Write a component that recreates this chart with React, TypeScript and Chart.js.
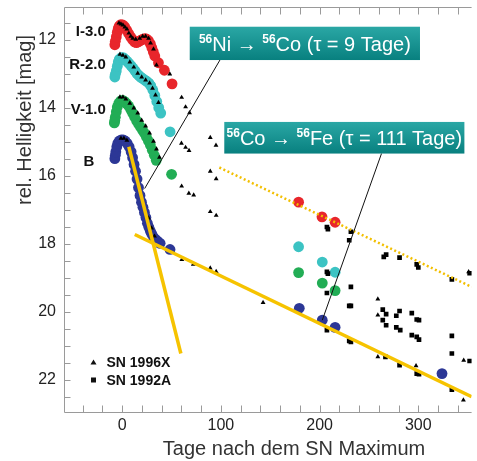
import React, { useEffect, useRef } from 'react';
import { Chart, registerables } from 'chart.js';

Chart.register(...registerables);

type P = [number, number];

// ---- data (days after maximum, relative magnitude) ----
const bandI: P[] = [
  [-7.5, 12.15], [-7, 12.05], [-6, 11.92], [-5, 11.78], [-4, 11.67], [-3, 11.6], [-1.5, 11.56], [0.5, 11.57],
  [2.5, 11.62], [4.5, 11.72], [6.5, 11.82], [8.5, 11.92], [10.5, 12.0], [12.5, 12.07], [14.5, 12.09],
  [16.5, 12.06], [18.5, 12.02], [20.5, 11.99], [22.5, 11.97], [24.5, 11.98], [26.5, 12.03], [28.5, 12.12],
  [30, 12.24], [31.5, 12.36], [33, 12.48], [36.7, 12.68], [42.7, 12.9], [50.5, 13.3],
  [178.7, 16.78], [202.4, 17.21], [215.7, 17.37],
];
const bandR: P[] = [
  [-7.5, 13.1], [-7, 13.02], [-6, 12.92], [-5, 12.78], [-4, 12.66], [-3, 12.58], [-1, 12.53], [1, 12.53],
  [3, 12.58], [5, 12.64], [7, 12.7], [9, 12.77], [11, 12.84], [13, 12.92], [15, 13.0], [17, 13.06],
  [19, 13.11], [21, 13.15], [23, 13.19], [25, 13.23], [27, 13.28], [29, 13.36], [31, 13.48], [33, 13.64],
  [35, 13.82], [37, 14.0], [39, 14.16], [48.5, 14.71],
  [178.7, 18.09], [202.7, 18.54], [215.7, 18.84],
];
const bandV: P[] = [
  [-8, 14.45], [-7.5, 14.38], [-7, 14.28], [-6, 14.12], [-5, 13.98], [-3.5, 13.87], [-1.5, 13.8], [0.5, 13.79],
  [2.5, 13.82], [4.5, 13.88], [6.5, 13.95], [8.5, 14.05], [10.5, 14.16], [12.5, 14.27], [14.5, 14.38],
  [16.5, 14.48], [18.5, 14.57], [20.5, 14.66], [22.5, 14.75], [24.5, 14.86], [26.5, 14.98], [28.5, 15.1],
  [30.5, 15.25], [32.5, 15.4], [34.5, 15.55], [50, 15.96],
  [178.7, 18.85], [202.7, 19.16], [215.7, 19.38],
];
const bandB: P[] = [
  [-7.5, 15.5], [-7, 15.4], [-6.5, 15.3], [-5.5, 15.15], [-4.5, 15.05], [-3, 14.98], [-1, 14.95], [1, 14.95],
  [3, 14.98], [5, 15.05], [7, 15.15], [9, 15.3], [10.5, 15.47], [12, 15.67], [13.5, 15.87], [15, 16.1],
  [16.5, 16.35], [18, 16.58], [19.5, 16.78], [21, 16.93], [22.5, 17.08], [24, 17.23], [25.5, 17.4],
  [27, 17.52], [28.5, 17.63], [30, 17.72], [32, 17.82], [34, 17.88], [36, 17.93], [38.4, 17.99], [48.4, 18.17],
  [179.4, 19.9], [202.7, 20.25], [215.7, 20.46], [324, 21.82],
];
const sn1996X: P[] = [
  [-3.3, 11.51], [-1.3, 11.54], [0.7, 11.57], [2.7, 11.63], [4.7, 11.69], [6.7, 11.81], [8.7, 11.9],
  [10.7, 11.96], [13.7, 11.99], [17.7, 11.96], [20.7, 11.9], [23.7, 11.9], [26.7, 11.96], [28.7, 12.1],
  [31.7, 12.28], [34.7, 12.75], [48.2, 13.01], [60.2, 13.7], [64.2, 13.98], [68.2, 14.15], [89.2, 14.88],
  [95, 15.11],
  [-2.3, 12.43], [0.7, 12.46], [3.7, 12.51], [7.7, 12.66], [11.7, 12.81], [15.7, 12.99], [19.7, 13.1],
  [23.7, 13.19], [27.7, 13.28], [30.7, 13.43], [33.7, 13.63], [36.7, 13.85], [60, 15.05], [64.2, 15.17],
  [67.7, 15.26], [89.2, 15.87], [95.2, 16.09],
  [-2.3, 13.69], [0.7, 13.69], [3.7, 13.75], [7.7, 13.87], [11.7, 14.01], [15.7, 14.16], [19.7, 14.37],
  [23.7, 14.54], [27.7, 14.75], [31.7, 14.99], [34.7, 15.22], [37.7, 15.46], [60.2, 16.31], [67.5, 16.52],
  [72.4, 16.57], [89.2, 17.06], [95.2, 17.17],
  [-1.3, 14.9], [1.7, 14.9], [4.7, 14.96], [26.7, 17.25], [29.7, 17.54], [32.7, 17.78], [60.4, 18.47],
  [72, 18.61], [89.2, 18.72], [95.2, 18.82], [142.7, 19.73], [259, 21.33], [297.7, 21.59], [346, 21.43],
  [345.7, 22.6], [259, 19.63], [259, 20.1], [351, 18.83],
];
const sn1992A: P[] = [
  [207.4, 17.51], [208.4, 17.57], [230, 17.9], [231.7, 17.65], [265, 18.39], [267.4, 18.32], [281, 18.41],
  [298.4, 18.61], [300, 18.7], [334, 19.05], [352, 18.87], [207.4, 18.83], [208.4, 18.88], [207.4, 19.45],
  [231.7, 19.27], [230, 19.83], [231.7, 19.83], [207.4, 20.54], [230, 20.86], [231.7, 20.89], [264, 19.94],
  [267.4, 20.07], [264, 20.25], [267.4, 20.4], [277.7, 20.12], [281, 19.98], [277.7, 20.46], [281.7, 20.54],
  [293.4, 20.04], [298.4, 20.23], [300.7, 20.25], [293.4, 20.69], [298.4, 20.74], [300.7, 20.82],
  [266.7, 21.33], [281, 21.57], [298.4, 21.82], [300.7, 21.84], [334, 20.71], [334, 21.23], [334, 22.29],
  [352, 21.45],
];
const fitNiCo: P[] = [[6.7, 15.15], [59.4, 21.23]];
const fitCoFe: P[] = [[12.7, 17.73], [354, 22.5]];
const fitCoFeI: P[] = [[98.4, 15.76], [354, 19.27]];
const pointerNi: P[] = [[100, 12.55], [22.7, 16.38]];
const pointerCo: P[] = [[262.7, 15.35], [202.7, 20.25]];

const xTickLabels = [0, 100, 200, 300];
const yTickLabels = [12, 14, 16, 18, 20, 22];
const xMinorTicks = [-40, -20, 0, 20, 40, 60, 80, 100, 120, 140, 160, 180, 200, 220, 240, 260, 280, 300, 320, 340];
const yMinorTicks = [11.5, 12, 12.5, 13, 13.5, 14, 14.5, 15, 15.5, 16, 16.5, 17, 17.5, 18, 18.5, 19, 19.5, 20, 20.5, 21, 21.5, 22, 22.5];

const bandNames = ['I-3.0', 'R-2.0', 'V-1.0', 'B'];
const legendNames = ['SN 1996X', 'SN 1992A'];
const xTitle = 'Tage nach dem SN Maximum';
const yTitle = 'rel. Helligkeit [mag]';
type Seg = { t: string; sup?: boolean };
const boxNiText: Seg[] = [{ t: '56', sup: true }, { t: 'Ni → ' }, { t: '56', sup: true }, { t: 'Co (τ = 9 Tage)' }];
const boxCoText: Seg[] = [{ t: '56', sup: true }, { t: 'Co → ' }, { t: '56', sup: true }, { t: 'Fe (τ = 111 Tage)' }];

const FONT = "'Liberation Sans', Arial, Helvetica, sans-serif";
const toXY = (arr: P[]) => arr.map(([x, y]) => ({ x, y }));

function drawRich(ctx: CanvasRenderingContext2D, segs: Seg[], cx: number, cy: number, size: number, supSize: number) {
  let w = 0;
  const widths: number[] = [];
  segs.forEach((s) => {
    ctx.font = s.sup ? `bold ${supSize}px ${FONT}` : `${size}px ${FONT}`;
    const mw = ctx.measureText(s.t).width;
    widths.push(mw);
    w += mw;
  });
  let x = cx - w / 2;
  const base = cy + size * 0.36;
  ctx.textAlign = 'left';
  ctx.textBaseline = 'alphabetic';
  segs.forEach((s, i) => {
    ctx.font = s.sup ? `bold ${supSize}px ${FONT}` : `${size}px ${FONT}`;
    ctx.fillText(s.t, x, s.sup ? base - size * 0.4 : base);
    x += widths[i];
  });
}

const decorPlugin = {
  id: 'decor',
  afterDraw(chart: any) {
    const { ctx, chartArea: a, scales } = chart;
    const xs = scales.x;
    const ys = scales.y;
    const X = (v: number) => xs.getPixelForValue(v);
    const Y = (v: number) => ys.getPixelForValue(v);
    ctx.save();
    // frame + inner ticks
    ctx.strokeStyle = '#9a9a9a';
    ctx.lineWidth = 1;
    const L = Math.round(a.left) + 0.5;
    const T = Math.round(a.top) + 0.5;
    const B = Math.round(a.bottom) + 0.5;
    ctx.beginPath();
    ctx.moveTo(a.right, T);
    ctx.lineTo(L, T);
    ctx.lineTo(L, B);
    ctx.lineTo(a.right, B);
    xMinorTicks.forEach((v) => {
      const px = Math.round(X(v)) + 0.5;
      ctx.moveTo(px, B);
      ctx.lineTo(px, B - 7);
      ctx.moveTo(px, T);
      ctx.lineTo(px, T + 7);
    });
    yMinorTicks.forEach((v) => {
      const py = Math.round(Y(v)) + 0.5;
      ctx.moveTo(L, py);
      ctx.lineTo(L + 6, py);
    });
    ctx.stroke();

    // band labels
    ctx.fillStyle = '#111';
    ctx.font = `bold 15px ${FONT}`;
    ctx.textAlign = 'right';
    ctx.textBaseline = 'middle';
    ctx.fillText(bandNames[0], X(-16.6), Y(11.78));
    ctx.fillText(bandNames[1], X(-16.6), Y(12.75));
    ctx.fillText(bandNames[2], X(-16.6), Y(14.07));
    ctx.fillText(bandNames[3], X(-28.3), Y(15.59));

    // legend
    ctx.font = `bold 14px ${FONT}`;
    ctx.textAlign = 'left';
    const mx = a.left + 29.5;
    const ly1 = a.bottom - 49.5;
    const ly2 = a.bottom - 32;
    ctx.beginPath();
    ctx.moveTo(mx, ly1 - 3);
    ctx.lineTo(mx + 3, ly1 + 2);
    ctx.lineTo(mx - 3, ly1 + 2);
    ctx.closePath();
    ctx.fill();
    ctx.fillRect(mx - 2.5, ly2 - 2.5, 5, 5);
    ctx.fillText(legendNames[0], a.left + 42.5, ly1 + 1);
    ctx.fillText(legendNames[1], a.left + 42.5, ly2 + 1);

    // axis titles
    ctx.fillStyle = '#333';
    ctx.font = `20px ${FONT}`;
    ctx.textAlign = 'center';
    ctx.textBaseline = 'middle';
    ctx.fillText(xTitle, a.left + 230, a.bottom + 37);
    ctx.save();
    ctx.translate(25, a.top + 113);
    ctx.rotate(-Math.PI / 2);
    ctx.fillText(yTitle, 0, 0);
    ctx.restore();

    // teal boxes
    const drawBox = (x0: number, x1: number, y0: number, y1: number, segs: Seg[], size: number) => {
      const l = X(x0), r = X(x1), t = Y(y0), b = Y(y1);
      const g = ctx.createLinearGradient(0, t, 0, b);
      g.addColorStop(0, '#2aa7a5');
      g.addColorStop(1, '#08807f');
      ctx.fillStyle = g;
      ctx.fillRect(l, t, r - l, b - t);
      ctx.fillStyle = '#ffffff';
      drawRich(ctx, segs, (l + r) / 2, (t + b) / 2, size, 12);
    };
    drawBox(68.4, 301.7, 11.62, 12.6, boxNiText, 20);
    drawBox(103.4, 346.7, 14.42, 15.35, boxCoText, 20);
    ctx.restore();
  },
};

export default function App() {
  const ref = useRef<HTMLCanvasElement | null>(null);
  useEffect(() => {
    if (!ref.current) return;
    const circle = (label: string, data: P[], color: string) => ({
      label,
      data: toXY(data),
      pointStyle: 'circle',
      pointRadius: 5.4,
      pointBackgroundColor: color,
      pointBorderWidth: 0,
      showLine: false,
      order: 10,
    });
    const line = (label: string, data: P[], color: string, width: number, dash: number[] = [], order = 2) => ({
      label,
      data: toXY(data),
      showLine: true,
      borderColor: color,
      borderWidth: width,
      borderDash: dash,
      pointRadius: 0,
      order,
    });
    const chart = new Chart(ref.current, {
      type: 'scatter',
      data: {
        datasets: [
          circle('I-3.0', bandI, '#e8262b'),
          circle('R-2.0', bandR, '#3cc3c3'),
          circle('V-1.0', bandV, '#22ad55'),
          circle('B', bandB, '#2c3796'),
          {
            label: 'SN 1996X', data: toXY(sn1996X), pointStyle: 'triangle', pointRadius: 2.8,
            pointBackgroundColor: '#000', pointBorderWidth: 0, showLine: false, order: 5,
          },
          {
            label: 'SN 1992A', data: toXY(sn1992A), pointStyle: 'rect', pointRadius: 3.3,
            pointBackgroundColor: '#000', pointBorderWidth: 0, showLine: false, order: 5,
          },
          line('Ni-Co', fitNiCo, '#f6c300', 3.5),
          line('Co-Fe', fitCoFe, '#f6c300', 3.5),
          line('Co-Fe I', fitCoFeI, '#f2bf00', 2.5, [2, 2.5]),
          line('pointer Ni', pointerNi, '#111', 1, [], 1),
          line('pointer Co', pointerCo, '#111', 1, [], 1),
        ] as any,
      },
      options: {
        animation: false,
        responsive: false,
        devicePixelRatio: 1,
        layout: { padding: { top: 7, right: 0, left: 0, bottom: 0 } },
        plugins: { legend: { display: false }, tooltip: { enabled: false } },
        scales: {
          x: {
            type: 'linear',
            min: -59,
            max: 354,
            afterBuildTicks: (s: any) => { s.ticks = xTickLabels.map((v) => ({ value: v })); },
            afterFit: (s: any) => { s.height = 49; s.paddingLeft = 0; s.paddingRight = 0; },
            grid: { display: false, drawTicks: false },
            border: { display: false },
            ticks: { font: { family: FONT, size: 16 }, color: '#222', padding: 4, maxRotation: 0, autoSkip: false },
          },
          y: {
            type: 'linear',
            reverse: true,
            min: 11.04,
            max: 22.95,
            afterBuildTicks: (s: any) => { s.ticks = yTickLabels.map((v) => ({ value: v })); },
            afterFit: (s: any) => { s.width = 64; s.paddingTop = 0; s.paddingBottom = 0; },
            grid: { display: false, drawTicks: false },
            border: { display: false },
            ticks: { font: { family: FONT, size: 16 }, color: '#222', padding: 8, autoSkip: false },
          },
        },
      } as any,
      plugins: [decorPlugin as any],
    });
    return () => chart.destroy();
  }, []);
  return (
    <div style={{ position: 'absolute', left: 0, top: 0, width: 477, height: 461, background: '#fff' }}>
      <canvas ref={ref} width={477} height={461} style={{ display: 'block', width: 477, height: 461 }} />
    </div>
  );
}
